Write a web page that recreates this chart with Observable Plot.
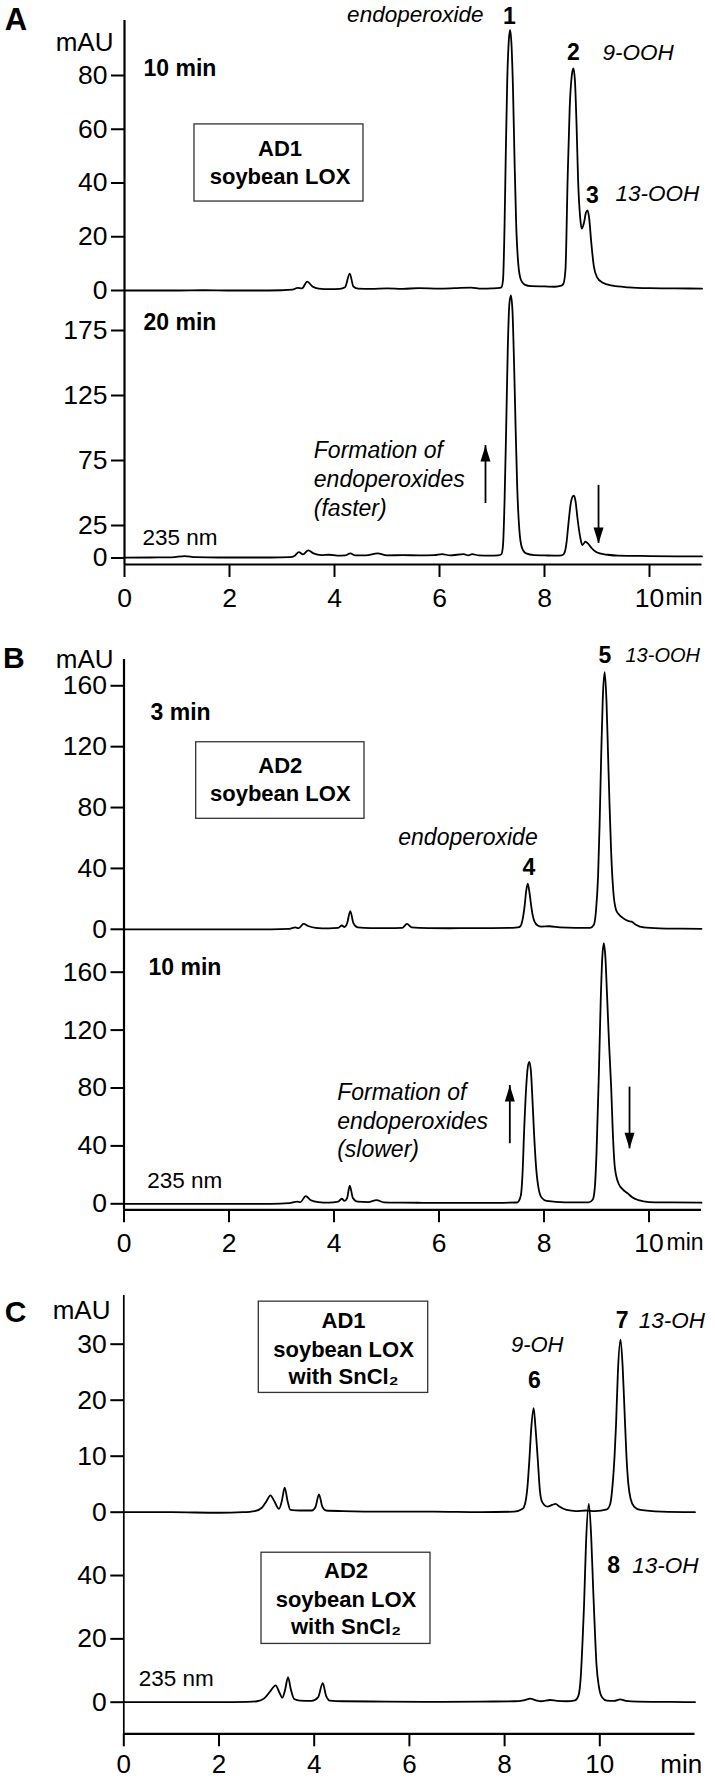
<!DOCTYPE html>
<html><head><meta charset="utf-8">
<script src="https://cdn.jsdelivr.net/npm/d3@7"></script>
<script src="https://cdn.jsdelivr.net/npm/@observablehq/plot@0.6"></script>
<style>html,body{margin:0;padding:0;background:#fff;} #chart{position:relative;width:715px;height:1779px;overflow:hidden;background:#fff;}</style>
</head><body><div id="chart"></div>
<script>
// ---------- DATA (retention time in min, absorbance in mAU) ----------
const traceAD1_10min = [[0,0],[0.5,0],[1,0],[1.5,0.1],[2,0],[2.5,0],[3,0.1],[3.2,0.3],[3.3,1.0],[3.38,0.8],[3.48,3.3],[3.58,1.5],[3.7,0.7],[3.9,0.5],[4.1,0.6],[4.2,1.2],[4.29,6.3],[4.36,1.5],[4.45,0.7],[4.7,0.6],[5.0,0.8],[5.3,0.6],[5.6,0.9],[6.0,0.7],[6.3,0.9],[6.6,1.1],[6.8,0.7],[7.0,0.8],[7.15,1.0],
  [7.18,1.2],[7.21,4],[7.24,25],[7.26,48],[7.29,78],[7.32,93],[7.345,97],[7.37,92],[7.40,75],[7.43,48],[7.46,25],[7.5,10],[7.55,4],[7.62,2.2],[7.75,1.6],[8.0,1.5],[8.2,1.4],[8.32,1.8],
  [8.36,2.5],[8.40,8],[8.44,41],[8.48,68],[8.52,80],[8.55,82.6],[8.58,78],[8.61,62],[8.64,41],[8.68,27],[8.71,23],[8.75,25],[8.79,29],[8.82,29.8],[8.85,27],[8.89,18],[8.94,9],[9.0,5],[9.1,3],[9.3,1.8],[9.6,1.2],[10,0.9],[10.5,0.8],[11,0.7]];
const traceAD1_20min = [[0,0.3],[0.5,0.4],[0.9,0.5],[1.15,1.5],[1.35,0.6],[1.8,0.4],[2.3,0.4],[2.8,0.4],[3.15,0.6],[3.25,2],[3.32,4.5],[3.4,2.8],[3.5,5.8],[3.6,3.5],[3.75,2.2],[3.9,2.5],[4.05,1.8],[4.2,2],[4.3,3.5],[4.4,2],[4.6,2],[4.82,3.5],[5.0,2],[5.3,2.2],[5.6,2],[5.9,2.2],[6.05,3],[6.2,2],[6.46,3],[6.55,2],[6.62,3],[6.75,2],[6.95,1.8],[7.12,2],
  [7.18,3],[7.21,10],[7.24,45],[7.27,100],[7.30,160],[7.33,195],[7.36,202],[7.39,190],[7.42,150],[7.45,100],[7.48,55],[7.52,22],[7.57,8],[7.65,3.5],[7.8,2.2],[8.0,2],[8.2,1.8],[8.33,2],
  [8.38,4],[8.42,12],[8.45,24],[8.50,42],[8.54,47.5],[8.56,48],[8.59,44],[8.63,30],[8.68,16],[8.72,10],[8.78,12.5],[8.83,11],[8.9,7.5],[8.97,5],[9.05,3.5],[9.2,2.5],[9.4,1.8],[10,1.5],[10.5,1.3],[11,1.2]];
const traceAD2_3min = [[0,0],[1,0],[2,0],[2.8,0],[3.15,0.3],[3.26,1.2],[3.33,0.8],[3.42,3.6],[3.52,2],[3.65,1],[3.9,0.6],[4.08,0.9],[4.15,2.5],[4.2,1.5],[4.25,4],[4.31,12],[4.37,4],[4.45,1.2],[4.7,0.8],[5.0,0.8],[5.3,1],[5.39,3.5],[5.48,1.2],[5.8,0.8],[6.2,0.7],[6.6,0.8],[7.0,0.8],[7.4,0.9],[7.5,1.2],
  [7.55,2],[7.59,6],[7.63,15],[7.66,25],[7.69,30],[7.72,25],[7.75,17],[7.78,10],[7.82,5],[7.88,2.5],[7.95,1.8],[8.1,2],[8.3,1.3],[8.6,1],[8.88,1],
  [8.95,3],[8.99,12],[9.03,35],[9.06,70],[9.09,115],[9.12,152],[9.155,169],[9.19,150],[9.22,115],[9.25,80],[9.28,50],[9.32,25],[9.37,13],[9.42,10],[9.5,7.5],[9.6,5.5],[9.67,5.0],[9.75,3],[9.9,1.2],[10.2,0.6],[10.6,0.4],[11,0.3]];
const traceAD2_10min = [[0,0],[1,0],[2,0],[2.8,0],[3.15,0.5],[3.3,1.5],[3.36,1.2],[3.46,5.3],[3.56,2.5],[3.7,1.2],[3.9,0.8],[4.08,1.5],[4.15,3.5],[4.2,2],[4.25,4],[4.3,12.6],[4.36,4],[4.45,1.5],[4.65,1.2],[4.81,2.5],[4.95,1],[5.3,0.8],[5.7,0.7],[6.2,0.6],[6.7,0.6],[7.2,0.7],[7.48,0.9],
  [7.52,2],[7.56,6],[7.59,20],[7.62,49],[7.66,80],[7.69,94],[7.72,98],[7.75,92],[7.78,72],[7.81,49],[7.85,25],[7.9,10],[7.96,4],[8.05,2],[8.4,1],[8.85,1],
  [8.93,3],[8.97,12],[9.0,35],[9.045,90],[9.08,140],[9.11,170],[9.14,180],[9.17,170],[9.2,145],[9.24,110],[9.28,80],[9.31,50],[9.35,25],[9.42,14],[9.5,10],[9.6,7],[9.68,4.5],[9.8,2.5],[10,1.2],[10.4,1],[11,0.8]];
const traceAD1_SnCl2 = [[0,0],[1,0],[2,-0.1],[2.5,0],[2.75,0.2],[2.9,0.8],[3.0,2],[3.08,3],[3.16,2],[3.26,0.6],[3.32,2],[3.38,4.4],[3.44,2],[3.5,0.4],[3.7,0.3],[3.95,0.3],[4.03,1],[4.1,3.2],[4.17,1],[4.25,0.3],[4.6,0.2],[5.5,0.1],[6.5,0.1],[7.5,0],[8.2,0.1],[8.38,0.6],
  [8.43,1.5],[8.48,4.5],[8.52,9.3],[8.56,15],[8.61,18.6],[8.65,15],[8.7,9],[8.74,4],[8.79,1.8],[8.9,1],[9.0,1.3],[9.07,1.5],[9.15,1],[9.3,0.4],[9.5,0.2],[9.7,0.3],[9.9,0.2],[10.15,0.5],
  [10.22,1.5],[10.27,5],[10.31,10],[10.34,15.4],[10.38,25],[10.435,30.8],[10.48,26],[10.52,18],[10.56,10],[10.6,5],[10.65,2.3],[10.72,1.0],[10.85,0.4],[11.3,0.1],[12,0]];
const traceAD2_SnCl2 = [[0,0],[1,0],[2,0],[2.6,0.1],[2.8,0.3],[2.95,1.2],[3.08,3.5],[3.19,5.3],[3.27,3],[3.33,1.4],[3.39,4],[3.45,7.9],[3.51,4],[3.58,1],[3.7,0.5],[3.95,0.4],[4.08,1.5],[4.18,6.0],[4.25,2],[4.33,0.5],[4.6,0.3],[5.5,0.2],[6.5,0.1],[7.5,0.2],[8.2,0.3],[8.4,0.6],[8.54,1.1],[8.66,0.6],[8.76,0.3],[8.96,0.7],[9.1,0.4],[9.3,0.3],[9.48,0.6],
  [9.55,2],[9.6,8],[9.64,20],[9.67,31],[9.71,50],[9.77,62.6],[9.82,52],[9.86,36],[9.89,25],[9.93,12],[9.98,5],[10.05,1.5],[10.15,0.5],[10.3,0.4],[10.43,0.9],[10.55,0.4],[10.8,0.2],[11.5,0.1],[12,0]];

const ticksA1 = [0,20,40,60,80];
const ticksA2 = [0,25,75,125,175];
const ticksB  = [0,40,80,120,160];
const ticksC1 = [0,10,20,30];
const ticksC2 = [0,20,40];
const ticksX  = [0,2,4,6,8,10];

// ---------- helpers ----------
const FONT = "'Liberation Sans', Arial, Helvetica, sans-serif";
const INK = "#000";
const T = (s, t, v, o = {}) => Plot.text([s], {x: [t], y: [v], text: d => d, fill: INK, fontSize: 22, ...o});
const B = (s, t, v, o = {}) => T(s, t, v, {fontWeight: "bold", fontSize: 23, ...o});
const I = (s, t, v, o = {}) => T(s, t, v, {fontStyle: "italic", fontSize: 23, ...o});
const box = (x1, x2, y1, y2) => Plot.rect([{x1, x2, y1, y2}], {x1: "x1", x2: "x2", y1: "y1", y2: "y2", fill: "none", stroke: "#333", strokeWidth: 1.3});
const head = {draw(ctx) { ctx.moveTo(0, 0); ctx.lineTo(-5, 16); ctx.lineTo(5, 16); ctx.closePath(); }};
const arrow = (t, vFrom, vTip) => [
  Plot.ruleX([t], {x: d => d, y1: [vFrom], y2: [vTip], stroke: INK, strokeWidth: 1.8}),
  Plot.dot([t], {x: d => d, y: [vTip], symbol: head, r: 5, fill: INK, stroke: "none", rotate: vTip > vFrom ? 0 : 180})
];
const trace = data => Plot.line(data, {x: d => d[0], y: d => d[1], curve: "monotone-x", stroke: INK, strokeWidth: 1.8});

function sub(cfg) {
  const {top, frameTop, frameBottom, bottom, zero, ppu, left, pxPerMin, xMax, yTicks, xTicks, marks} = cfg;
  const right = left + xMax * pxPerMin;
  const yLo = (zero - frameBottom) / ppu, yHi = (zero - frameTop) / ppu;
  const all = [
    Plot.axisY({ticks: yTicks, tickSize: 13, tickPadding: 4, fontSize: 26.5, strokeWidth: 2, label: null, tickFormat: d => String(d)}),
    Plot.ruleX([0], {stroke: INK, strokeWidth: cfg.axisWidth ?? 2.2})
  ];
  if (xTicks) {
    all.push(Plot.axisX({ticks: xTicks, tickSize: 13, tickPadding: cfg.xPad ?? 10.5, fontSize: cfg.xFont ?? 26.5, strokeWidth: 2, label: null, tickFormat: d => String(d)}));
    all.push(Plot.ruleY([yLo], {stroke: INK, strokeWidth: 2.2}));
  }
  all.push(...marks);
  const svg = Plot.plot({
    width: 715, height: bottom - top,
    marginLeft: left, marginRight: 715 - right, marginTop: frameTop - top, marginBottom: bottom - frameBottom,
    x: xTicks ? {domain: [0, xMax], label: null} : {domain: [0, xMax], label: null, axis: null},
    y: {domain: [yLo, yHi], label: null},
    style: `font-family: ${FONT}; font-size: 26.5px; background: transparent; overflow: visible; color: #000;`,
    marks: all
  });
  svg.style.position = "absolute"; svg.style.left = "0px"; svg.style.top = top + "px";
  document.getElementById("chart").appendChild(svg);
}

// ---------- Panel A ----------
sub({top: 0, frameTop: 20, frameBottom: 300, bottom: 300, zero: 290, ppu: 2.6875, left: 124, pxPerMin: 52.5, xMax: 11, yTicks: ticksA1,
  marks: [
    trace(traceAD1_10min),
    B("A", -2.067, 100.5, {fontSize: 31}),
    T("mAU", -0.21, 92.4, {fontSize: 26, textAnchor: "end"}),
    B("10 min", 0.362, 82.6, {textAnchor: "start"}),
    box(1.333, 4.552, 33.1, 61.8),
    B("AD1", 2.962, 52.7, {fontSize: 22}),
    B("soybean LOX", 2.962, 42.2, {fontSize: 22}),
    I("endoperoxide", 6.838, 102.6, {textAnchor: "end", fontSize: 22.5}),
    B("1", 7.333, 102.0),
    B("2", 8.552, 88.6),
    I("9-OOH", 9.105, 88.6, {textAnchor: "start", fontSize: 22.5}),
    B("3", 8.914, 35.3),
    I("13-OOH", 9.352, 36.1, {textAnchor: "start", fontSize: 22.5})
  ]});
sub({top: 300, frameTop: 300, frameBottom: 564, bottom: 625, zero: 557.5, ppu: 1.3, left: 124, pxPerMin: 52.5, xMax: 11, yTicks: ticksA2, xTicks: ticksX,
  marks: [
    trace(traceAD1_20min),
    B("20 min", 0.362, 181.2, {textAnchor: "start"}),
    T("235 nm", 0.343, 15.8, {textAnchor: "start", fontSize: 22.5}),
    I("Formation of", 3.606, 82.7, {textAnchor: "start"}),
    I("endoperoxides", 3.606, 60.4, {textAnchor: "start"}),
    I("(faster)", 3.606, 38.1, {textAnchor: "start"}),
    ...arrow(6.876, 41.9, 86.5),
    ...arrow(9.029, 55.8, 11.2),
    T("min", 11.01, -30.4, {textAnchor: "end", fontSize: 23})
  ]});

// ---------- Panel B ----------
sub({top: 640, frameTop: 659, frameBottom: 940, bottom: 940, zero: 928.8, ppu: 1.522, left: 123.5, pxPerMin: 52.5, xMax: 11, yTicks: ticksB,
  marks: [
    trace(traceAD2_3min),
    B("B", -2.099, 177.9, {fontSize: 30}),
    T("mAU", -0.2, 177.3, {fontSize: 26, textAnchor: "end"}),
    B("3 min", 0.505, 142.6, {textAnchor: "start"}),
    box(1.375, 4.581, 72.6, 122.9),
    B("AD2", 2.977, 107.6, {fontSize: 22}),
    B("soybean LOX", 2.977, 89.0, {fontSize: 22}),
    I("endoperoxide", 6.552, 60.5),
    B("4", 7.71, 40.8),
    B("5", 9.158, 179.9),
    I("13-OOH", 9.552, 179.9, {textAnchor: "start", fontSize: 20})
  ]});
sub({top: 940, frameTop: 940, frameBottom: 1209.3, bottom: 1270, zero: 1203.3, ppu: 1.4475, left: 123.5, pxPerMin: 52.5, xMax: 11, yTicks: ticksB, xTicks: ticksX, xPad: 10,
  marks: [
    trace(traceAD2_10min),
    B("10 min", 0.467, 163.5, {textAnchor: "start"}),
    T("235 nm", 0.442, 16.1, {textAnchor: "start", fontSize: 22.5}),
    I("Formation of", 4.061, 77.1, {textAnchor: "start"}),
    I("endoperoxides", 4.061, 57.1, {textAnchor: "start"}),
    I("(slower)", 4.061, 37.3, {textAnchor: "start"}),
    ...arrow(7.349, 41.5, 81.7),
    ...arrow(9.629, 80.6, 38.0),
    T("min", 11.04, -26.7, {textAnchor: "end", fontSize: 23})
  ]});

// ---------- Panel C ----------
sub({top: 1280, frameTop: 1295, frameBottom: 1540, bottom: 1540, zero: 1511.7, ppu: 5.6, left: 123.3, pxPerMin: 47.6, xMax: 12, yTicks: ticksC1, axisWidth: 1.7,
  marks: [
    trace(traceAD1_SnCl2),
    B("C", -2.275, 35.7, {fontSize: 30}),
    T("mAU", -0.28, 36.0, {fontSize: 26, textAnchor: "end"}),
    box(2.836, 6.395, 21.3, 37.6),
    B("AD1", 4.616, 34.2, {fontSize: 22}),
    B("soybean LOX", 4.616, 29.0, {fontSize: 22}),
    B("with SnCl\u2082", 4.616, 24.1, {fontSize: 22}),
    I("9-OH", 8.685, 29.9, {fontSize: 22}),
    B("6", 8.628, 23.5),
    B("7", 10.47, 34.2),
    I("13-OH", 10.82, 34.2, {textAnchor: "start", fontSize: 22.5})
  ]});
sub({top: 1540, frameTop: 1540, frameBottom: 1733.3, bottom: 1779, zero: 1701.7, ppu: 3.167, left: 123.3, pxPerMin: 47.6, xMax: 12, yTicks: ticksC2, xTicks: ticksX, xPad: 8, xFont: 26, axisWidth: 1.7,
  marks: [
    trace(traceAD2_SnCl2),
    box(2.893, 6.443, 18.4, 47.2),
    B("AD2", 4.668, 41.3, {fontSize: 22}),
    B("soybean LOX", 4.668, 32.3, {fontSize: 22}),
    B("with SnCl\u2082", 4.668, 23.7, {fontSize: 22}),
    T("235 nm", 0.315, 7.4, {textAnchor: "start", fontSize: 22.5}),
    B("8", 10.29, 43.2),
    I("13-OH", 10.68, 43.2, {textAnchor: "start", fontSize: 22.5}),
    T("min", 12.15, -19.6, {textAnchor: "end", fontSize: 26})
  ]});
</script>
</body></html>
